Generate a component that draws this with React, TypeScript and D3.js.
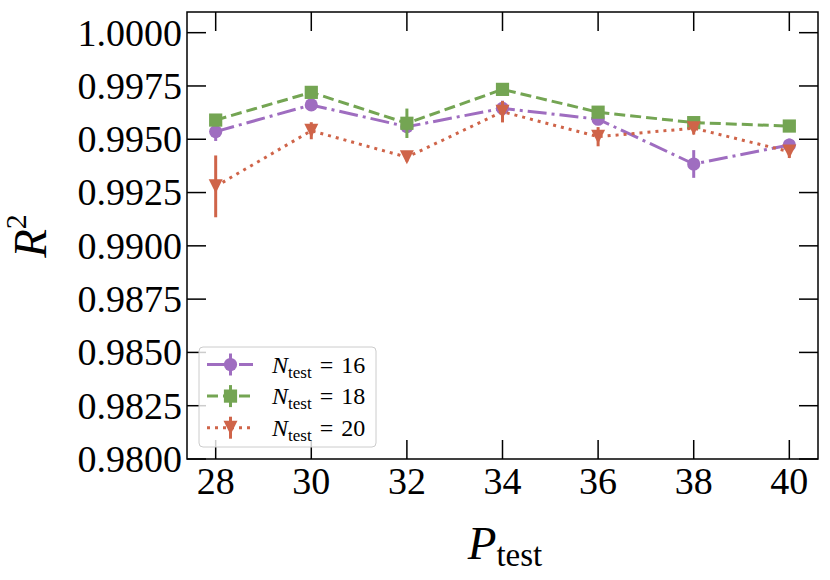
import * as d3 from 'd3'

const P = [28, 30, 32, 34, 36, 38, 40]
const r2N16 = [0.99536, 0.99661, 0.99559, 0.99645, 0.99594, 0.99384, 0.99473]
const errN16 = [0.00044, 0.0002, 0.0003, 0.00036, 0.0002, 0.00065, 0.0003]
const r2N18 = [0.9959, 0.9972, 0.99575, 0.99734, 0.99627, 0.99578, 0.99562]
const errN18 = [0.0002, 0.0001, 0.00069, 0.0002, 0.0002, 0.0002, 0.0001]
const r2N20 = [0.99279, 0.9954, 0.99416, 0.99629, 0.99512, 0.99552, 0.99442]
const errN20 = [0.00145, 0.0004, 0.0002, 0.0005, 0.00045, 0.0003, 0.0003]
const yTicks = [0.98, 0.9825, 0.985, 0.9875, 0.99, 0.9925, 0.995, 0.9975, 1.0]
const nLabels = ['16', '18', '20']

const W = 830
const H = 580
const left = 187
const right = 818
const top = 12
const bottom = 459
const serif = { fontFamily: "'Liberation Serif', 'Times New Roman', serif" }

const x = d3.scaleLinear().domain([27.4, 40.6]).range([left, right])
const y = d3.scaleLinear().domain([0.98, 1.00097]).range([bottom, top])

type Series = {
  vals: number[]
  errs: number[]
  color: string
  dash: string
  marker: 'circle' | 'square' | 'tri'
  n: string
}

const series: Series[] = [
  { vals: r2N16, errs: errN16, color: '#9f6dc0', dash: '19 5 3 5', marker: 'circle', n: nLabels[0] },
  { vals: r2N18, errs: errN18, color: '#74a553', dash: '11 5', marker: 'square', n: nLabels[1] },
  { vals: r2N20, errs: errN20, color: '#cf6449', dash: '3 5', marker: 'tri', n: nLabels[2] },
]

function Marker({ kind, cx, cy, color }: { kind: string; cx: number; cy: number; color: string }) {
  if (kind === 'circle') return <circle cx={cx} cy={cy} r={6.6} fill={color} />
  if (kind === 'square') return <rect x={cx - 6.6} y={cy - 6.6} width={13.2} height={13.2} fill={color} />
  const s = 7
  return <path d={`M${cx - s},${cy - s}L${cx + s},${cy - s}L${cx},${cy + s}Z`} fill={color} />
}

export default function App() {
  const line = d3
    .line<number>()
    .x((_, i) => x(P[i]))
    .y((d) => y(d))
  const tickLen = 19

  return (
    <div style={{ position: 'absolute', left: 0, top: 0 }}>
      <svg width={W} height={H} style={{ display: 'block', background: '#fff' }}>
        {/* data */}
        {series.map((s, k) => (
          <g key={k}>
            {s.vals.map((v, i) => (
              <line
                key={i}
                x1={x(P[i])}
                x2={x(P[i])}
                y1={y(v - s.errs[i])}
                y2={y(v + s.errs[i])}
                stroke={s.color}
                strokeWidth={3}
              />
            ))}
            <path d={line(s.vals) ?? ''} fill="none" stroke={s.color} strokeWidth={3} strokeDasharray={s.dash} />
            {s.vals.map((v, i) => (
              <Marker key={i} kind={s.marker} cx={x(P[i])} cy={y(v)} color={s.color} />
            ))}
          </g>
        ))}

        {/* ticks */}
        {yTicks.map((t) => (
          <g key={t}>
            <line x1={left} x2={left + tickLen} y1={y(t)} y2={y(t)} stroke="#000" strokeWidth={1.5} />
            <line x1={right} x2={right - tickLen} y1={y(t)} y2={y(t)} stroke="#000" strokeWidth={1.5} />
            <text x={left - 5} y={y(t)} dy="0.34em" textAnchor="end" style={serif} fontSize={38}>
              {d3.format('.4f')(t)}
            </text>
          </g>
        ))}
        {P.map((p) => (
          <g key={p}>
            <line x1={x(p)} x2={x(p)} y1={bottom} y2={bottom - tickLen} stroke="#000" strokeWidth={1.5} />
            <line x1={x(p)} x2={x(p)} y1={top} y2={top + tickLen} stroke="#000" strokeWidth={1.5} />
            <text x={x(p)} y={494} textAnchor="middle" style={serif} fontSize={38}>
              {p}
            </text>
          </g>
        ))}
        <rect x={left} y={top} width={right - left} height={bottom - top} fill="none" stroke="#000" strokeWidth={1.5} />

        {/* legend */}
        <g>
          <rect x={199} y={347} width={177} height={100} rx={4} fill="#fff" fillOpacity={0.8} stroke="#cccccc" strokeWidth={1} />
          {series.map((s, k) => {
            const cy = 364.5 + k * 31.6
            return (
              <g key={k}>
                <line x1={207} x2={253} y1={cy} y2={cy} stroke={s.color} strokeWidth={3} strokeDasharray={s.dash} />
                <line x1={230.5} x2={230.5} y1={cy - 11} y2={cy + 11} stroke={s.color} strokeWidth={3} />
                <Marker kind={s.marker} cx={230.5} cy={cy} color={s.color} />
                <text x={272} y={cy + 8} style={serif} fontSize={24}>
                  <tspan fontStyle="italic">N</tspan>
                  <tspan fontSize={17} dy={5}>test</tspan>
                  <tspan dy={-5} dx={8}>=</tspan>
                  <tspan dx={8}>{s.n}</tspan>
                </text>
              </g>
            )
          })}
        </g>

        {/* axis labels */}
        <text x={505} y={559} textAnchor="middle" style={serif} fontSize={47}>
          <tspan fontStyle="italic">P</tspan>
          <tspan fontSize={33} dy={7}>test</tspan>
        </text>
        <text transform="translate(46,236) rotate(-90)" textAnchor="middle" style={serif} fontSize={47}>
          <tspan fontStyle="italic">R</tspan>
          <tspan fontSize={30} dy={-20}>2</tspan>
        </text>
      </svg>
    </div>
  )
}
